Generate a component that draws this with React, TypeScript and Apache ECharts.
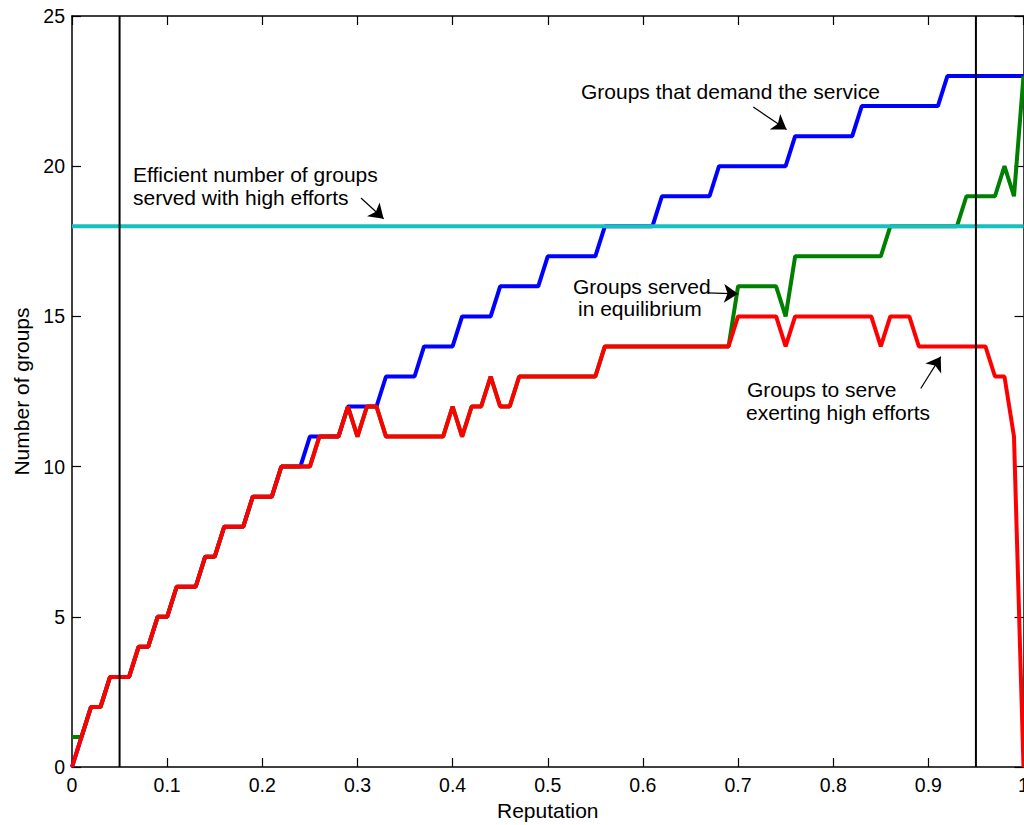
import React, { useEffect, useRef } from "react";
import * as echarts from "echarts";

// Sampling grid of reputation (0 to 1, step 0.01)
const reputation: number[] = Array.from({ length: 101 }, (_, i) => i / 100);

const xTicks = [0, 0.1, 0.2, 0.3, 0.4, 0.5, 0.6, 0.7, 0.8, 0.9, 1];
const yTicks = [0, 5, 10, 15, 20, 25];

// Groups to serve exerting high efforts (red)
const groupsHighEffort: number[] = [
  0, 1, 2, 2, 3, 3, 3, 4, 4, 5,
  5, 6, 6, 6, 7, 7, 8, 8, 8, 9,
  9, 9, 10, 10, 10, 10, 11, 11, 11, 12,
  11, 12, 12, 11, 11, 11, 11, 11, 11, 11,
  12, 11, 12, 12, 13, 12, 12, 13, 13, 13,
  13, 13, 13, 13, 13, 13, 14, 14, 14, 14,
  14, 14, 14, 14, 14, 14, 14, 14, 14, 14,
  15, 15, 15, 15, 15, 14, 15, 15, 15, 15,
  15, 15, 15, 15, 15, 14, 15, 15, 15, 14,
  14, 14, 14, 14, 14, 14, 14, 13, 13, 11,
  0,
];

// Groups that demand the service (blue)
const groupsDemand: number[] = [
  0, 1, 2, 2, 3, 3, 3, 4, 4, 5,
  5, 6, 6, 6, 7, 7, 8, 8, 8, 9,
  9, 9, 10, 10, 10, 11, 11, 11, 11, 12,
  12, 12, 12, 13, 13, 13, 13, 14, 14, 14,
  14, 15, 15, 15, 15, 16, 16, 16, 16, 16,
  17, 17, 17, 17, 17, 17, 18, 18, 18, 18,
  18, 18, 19, 19, 19, 19, 19, 19, 20, 20,
  20, 20, 20, 20, 20, 20, 21, 21, 21, 21,
  21, 21, 21, 22, 22, 22, 22, 22, 22, 22,
  22, 22, 23, 23, 23, 23, 23, 23, 23, 23,
  23,
];

// Groups served in equilibrium (green)
const groupsEquilibrium: number[] = [
  1, 1, 2, 2, 3, 3, 3, 4, 4, 5,
  5, 6, 6, 6, 7, 7, 8, 8, 8, 9,
  9, 9, 10, 10, 10, 10, 11, 11, 11, 12,
  11, 12, 12, 11, 11, 11, 11, 11, 11, 11,
  12, 11, 12, 12, 13, 12, 12, 13, 13, 13,
  13, 13, 13, 13, 13, 13, 14, 14, 14, 14,
  14, 14, 14, 14, 14, 14, 14, 14, 14, 14,
  16, 16, 16, 16, 16, 15, 17, 17, 17, 17,
  17, 17, 17, 17, 17, 17, 18, 18, 18, 18,
  18, 18, 18, 18, 19, 19, 19, 19, 20, 19,
  23,
];

// Efficient number of groups served with high efforts (cyan)
const efficientGroups = 18;
// Vertical reference lines
const referenceLines = [0.05, 0.95];

// Annotation arrows [from, to] in data coordinates
const arrows: number[][][] = [
  [[0.716, 21.97], [0.751, 21.22]],
  [[0.3037, 18.94], [0.3275, 18.25]],
  [[0.668, 15.78], [0.7, 15.75]],
  [[0.892, 12.6], [0.913, 13.66]],
];

const FONT = "'Liberation Sans', Arial, Helvetica, sans-serif";

export default function App() {
  const ref = useRef<HTMLDivElement>(null);

  useEffect(() => {
    document.body.style.margin = "0";
    if (!ref.current) return;
    const chart = echarts.init(ref.current, undefined, { renderer: "svg" });

    const toPairs = (vals: number[]) => reputation.map((x, i) => [x, vals[i]]);

    const axisCommon = {
      axisLine: { show: true, onZero: false, lineStyle: { color: "#000", width: 1.5 } },
      axisTick: { show: true, inside: true, length: 9, lineStyle: { color: "#000", width: 1.2 } },
      splitLine: { show: false },
    };

    const option: any = {
      animation: false,
      backgroundColor: "#fff",
      textStyle: { fontFamily: FONT },
      grid: { left: 72, right: 0.5, top: 16, bottom: 58, containLabel: false, outerBoundsMode: "none" },
      xAxis: [
        {
          type: "value",
          min: xTicks[0],
          max: xTicks[xTicks.length - 1],
          interval: 0.1,
          position: "bottom",
          ...axisCommon,
          axisLabel: {
            color: "#000",
            fontSize: 19.5,
            fontFamily: FONT,
            margin: 8,
            formatter: (v: number) => String(+v.toFixed(1)),
          },
          name: "Reputation",
          nameLocation: "middle",
          nameGap: 33,
          nameTextStyle: { color: "#000", fontSize: 21, fontFamily: FONT },
        },
        {
          type: "value",
          min: xTicks[0],
          max: xTicks[xTicks.length - 1],
          interval: 0.1,
          position: "top",
          ...axisCommon,
          axisLabel: { show: false },
        },
      ],
      yAxis: [
        {
          type: "value",
          min: yTicks[0],
          max: yTicks[yTicks.length - 1],
          interval: 5,
          position: "left",
          ...axisCommon,
          axisLabel: { color: "#000", fontSize: 19.5, fontFamily: FONT, margin: 7 },
          name: "Number of groups",
          nameLocation: "middle",
          nameGap: 40,
          nameTextStyle: { color: "#000", fontSize: 21, fontFamily: FONT },
        },
        {
          type: "value",
          min: yTicks[0],
          max: yTicks[yTicks.length - 1],
          interval: 5,
          position: "right",
          ...axisCommon,
          axisLabel: { show: false },
        },
      ],
      series: [
        {
          type: "line",
          name: "Groups that demand the service",
          data: toPairs(groupsDemand),
          symbol: "none",
          lineStyle: { color: "#0000ff", width: 4 },
          z: 2,
        },
        {
          type: "line",
          name: "Groups served in equilibrium",
          data: toPairs(groupsEquilibrium),
          symbol: "none",
          lineStyle: { color: "#008000", width: 4 },
          z: 3,
        },
        {
          type: "line",
          name: "Groups to serve exerting high efforts",
          data: toPairs(groupsHighEffort),
          symbol: "none",
          lineStyle: { color: "#ff0000", width: 4 },
          z: 4,
        },
        {
          type: "line",
          name: "Efficient number of groups",
          data: [
            [xTicks[0], efficientGroups],
            [xTicks[xTicks.length - 1], efficientGroups],
          ],
          symbol: "none",
          lineStyle: { color: "#19bfbf", width: 4 },
          z: 5,
        },
        ...referenceLines.map((x) => ({
          type: "line",
          data: [
            [x, yTicks[0]],
            [x, yTicks[yTicks.length - 1]],
          ],
          symbol: "none",
          lineStyle: { color: "#000", width: 2 },
          z: 6,
        })),
        {
          type: "lines",
          coordinateSystem: "cartesian2d",
          data: arrows.map((a) => ({ coords: a })),
          symbol: ["none", "arrow"],
          symbolSize: [10, 14],
          lineStyle: { color: "#000", width: 1.2, opacity: 1 },
          z: 7,
        },
      ],
      graphic: [
        { type: "text", x: 581, y: 91, style: { text: "Groups that demand the service", font: `21px ${FONT}`, fill: "#000", verticalAlign: "middle" } },
        { type: "text", x: 133, y: 174, style: { text: "Efficient number of groups", font: `21px ${FONT}`, fill: "#000", verticalAlign: "middle" } },
        { type: "text", x: 133, y: 197, style: { text: "served with high efforts", font: `21px ${FONT}`, fill: "#000", verticalAlign: "middle" } },
        { type: "text", x: 573, y: 286, style: { text: "Groups served", font: `21px ${FONT}`, fill: "#000", verticalAlign: "middle" } },
        { type: "text", x: 578, y: 308, style: { text: "in equilibrium", font: `21px ${FONT}`, fill: "#000", verticalAlign: "middle" } },
        { type: "text", x: 747, y: 389, style: { text: "Groups to serve", font: `21px ${FONT}`, fill: "#000", verticalAlign: "middle" } },
        { type: "text", x: 746, y: 412, style: { text: "exerting high efforts", font: `21px ${FONT}`, fill: "#000", verticalAlign: "middle" } },
      ],
    };

    chart.setOption(option);
    return () => chart.dispose();
  }, []);

  return <div ref={ref} style={{ width: 1024, height: 825 }} />;
}
